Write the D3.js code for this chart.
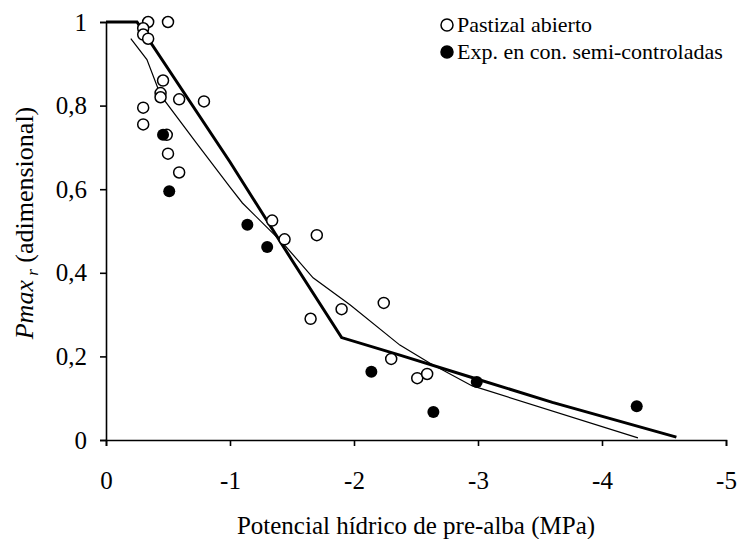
<!DOCTYPE html>
<html>
<head>
<meta charset="utf-8">
<script src="https://cdn.jsdelivr.net/npm/d3@7"></script>
<style>
  body { margin: 0; background: #fff; }
  svg text { font-family: "Liberation Serif", "Times New Roman", serif; fill: #000; }
</style>
</head>
<body>
<div id="chart"></div>
<script>
// open circles: Pastizal abierto  [potencial, Pmax r]
const pastizal = [
  [-0.34, 1.0], [-0.50, 1.0], [-0.30, 0.985], [-0.30, 0.97], [-0.34, 0.96],
  [-0.46, 0.86], [-0.44, 0.83], [-0.44, 0.82], [-0.59, 0.815], [-0.79, 0.81],
  [-0.30, 0.795], [-0.30, 0.755], [-0.49, 0.73], [-0.50, 0.685], [-0.59, 0.64],
  [-1.34, 0.525], [-1.44, 0.48], [-1.70, 0.49], [-1.65, 0.29], [-1.90, 0.313],
  [-2.24, 0.328], [-2.30, 0.194], [-2.51, 0.148], [-2.59, 0.158]
]
// filled circles: Exp. en con. semi-controladas
const semiControl = [
  [-0.46, 0.73], [-0.51, 0.595], [-1.14, 0.515], [-1.30, 0.462],
  [-2.14, 0.163], [-2.64, 0.067], [-2.99, 0.139], [-4.28, 0.081]
]
// thick line (ajuste por tramos)
const thickLine = [
  [0, 1.0], [-0.25, 1.0], [-1.0, 0.665], [-1.5, 0.43], [-1.9, 0.245],
  [-2.37, 0.203], [-2.99, 0.146], [-3.6, 0.09], [-4.6, 0.007]
]
// thin line (ajuste curvo)
const thinLine = [
  [-0.2, 0.96], [-0.33, 0.91], [-0.44, 0.825], [-0.73, 0.71], [-1.0, 0.605],
  [-1.1, 0.567], [-1.43, 0.47], [-1.67, 0.388], [-1.97, 0.323], [-2.37, 0.227],
  [-2.61, 0.184], [-2.95, 0.13], [-4.29, 0.005]
]
const xTicks = [0, -1, -2, -3, -4, -5]
const yTicks = [0, 0.2, 0.4, 0.6, 0.8, 1]
const legendLabels = ["Pastizal abierto", "Exp. en con. semi-controladas"]

const W = 738, H = 539
const FONT = "'Liberation Serif', 'Times New Roman', serif"
const svg = d3.select("#chart").append("svg").attr("width", W).attr("height", H)

const x = d3.scaleLinear().domain([0, -5]).range([106, 726])
const y = d3.scaleLinear().domain([0, 1]).range([440, 22])

// axes
svg.append("g")
  .attr("transform", `translate(0,${y(0)})`)
  .call(d3.axisBottom(x).tickValues(xTicks).tickSizeOuter(0).tickSize(6).tickPadding(25)
    .tickFormat(d => d === 0 ? "0" : "-" + Math.abs(d)))
svg.append("g")
  .attr("transform", `translate(${x(0)},0)`)
  .call(d3.axisLeft(y).tickValues(yTicks).tickSizeOuter(0).tickSize(6).tickPadding(13)
    .tickFormat(d => String(d).replace(".", ",")))

svg.selectAll(".domain").attr("stroke", "#000").attr("stroke-width", 1.6)
svg.selectAll(".tick line").attr("stroke", "#000").attr("stroke-width", 1.6)
svg.selectAll(".tick text").attr("font-size", 25).style("font-family", FONT)

// axis titles
svg.append("text")
  .attr("x", (x(0) + x(-5)) / 2).attr("y", 534)
  .attr("text-anchor", "middle").attr("font-size", 25)
  .text("Potencial hídrico de pre-alba (MPa)")

const yt = svg.append("text")
  .attr("transform", `translate(33,${(y(0) + y(1)) / 2 - 8}) rotate(-90)`)
  .attr("text-anchor", "middle").attr("font-size", 26)
yt.append("tspan").attr("font-style", "italic").text("Pmax")
yt.append("tspan").attr("font-style", "italic").attr("font-size", 17).attr("dy", 5).text(" r")
yt.append("tspan").attr("dy", -5).text(" (adimensional)")

// lines
const line = d3.line().x(d => x(d[0])).y(d => y(d[1]))
svg.append("path").datum(thinLine).attr("d", line)
  .attr("fill", "none").attr("stroke", "#000").attr("stroke-width", 1.2)
svg.append("path").datum(thickLine).attr("d", line)
  .attr("fill", "none").attr("stroke", "#000").attr("stroke-width", 3)

// points
svg.append("g").selectAll("circle").data(pastizal).join("circle")
  .attr("cx", d => x(d[0])).attr("cy", d => y(d[1])).attr("r", 5.5)
  .attr("fill", "#fff").attr("stroke", "#000").attr("stroke-width", 1.5)
svg.append("g").selectAll("circle").data(semiControl).join("circle")
  .attr("cx", d => x(d[0])).attr("cy", d => y(d[1])).attr("r", 6)
  .attr("fill", "#000")

// legend
const legend = svg.append("g").attr("transform", "translate(447,25)")
legendLabels.forEach((lab, i) => {
  const row = legend.append("g").attr("transform", `translate(0,${i * 27})`)
  row.append("circle").attr("r", 6)
    .attr("fill", i === 0 ? "#fff" : "#000")
    .attr("stroke", "#000").attr("stroke-width", 1.5)
  row.append("text").attr("x", 10).attr("y", 7).attr("font-size", 22).text(lab)
})
</script>
</body>
</html>
